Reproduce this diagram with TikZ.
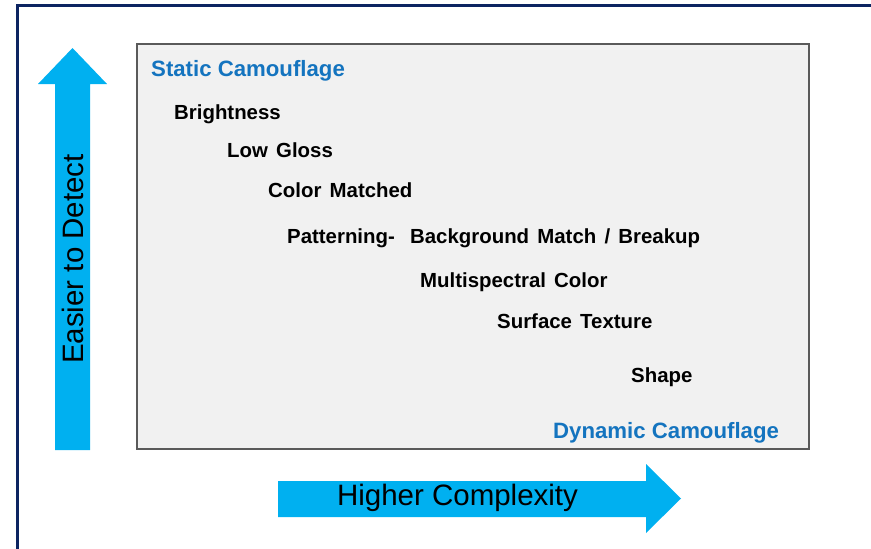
\documentclass[tikz,border=0pt]{standalone}
\usepackage{fontspec}
\setmainfont{Liberation Sans}
\newfontfamily\itemfont[WordSpace=1.45]{Liberation Sans}
\definecolor{framenavy}{HTML}{0C2461}
\definecolor{arrowblue}{HTML}{00B0F0}
\definecolor{titleblue}{HTML}{1474BF}
\definecolor{boxfill}{HTML}{F1F1F1}
\definecolor{boxline}{HTML}{5A5A5A}
\begin{document}
\begin{tikzpicture}[x=1pt,y=-1pt,
  item/.style={anchor=base west,inner sep=0pt,font=\itemfont\fontsize{20.4}{24}\selectfont\bfseries,text=black},
  head/.style={anchor=base west,inner sep=0pt,font=\fontsize{22.2}{26}\selectfont\bfseries,text=titleblue},
  axislabel/.style={inner sep=0pt,font=\fontsize{29.5}{34}\selectfont,text=black},
  bigarrow/.style={fill=arrowblue,draw=none}]
\useasboundingbox (0,0) rectangle (871,549);
% frame
\draw[framenavy,line width=3pt] (17.5,549) -- (17.5,5.5) -- (871,5.5);
% panel
\draw[boxline,fill=boxfill,line width=1.3pt] (137,44) rectangle (809,449);
% up arrow
\fill[bigarrow] (55,450) -- (55,84) -- (38,84) -- (72.5,48) -- (107,84) -- (90,84) -- (90,450) -- cycle;
\node[axislabel,rotate=90] (easier) at (72.5,259) {Easier to Detect};
% right arrow
\fill[bigarrow] (278,481) -- (646,481) -- (646,464) -- (681,498.5) -- (646,533) -- (646,517) -- (278,517) -- cycle;
\node[axislabel] (higher) at (457.5,498) {Higher Complexity};
% texts
\node[head] (static) at (151,76) {Static Camouflage};
\node[item] (bright) at (174,119) {Brightness};
\node[item] (gloss) at (227,157) {Low Gloss};
\node[item] (color) at (268,197) {Color Matched};
\node[item] (pattern) at (287,243) {Patterning-\hspace{0.75em}Background Match / Breakup};
\node[item] (multi) at (420,287) {Multispectral Color};
\node[item] (surface) at (497,328) {Surface Texture};
\node[item] (shape) at (631,382) {Shape};
\node[head] (dynamic) at (553,438) {Dynamic Camouflage};
\end{tikzpicture}
\end{document}
